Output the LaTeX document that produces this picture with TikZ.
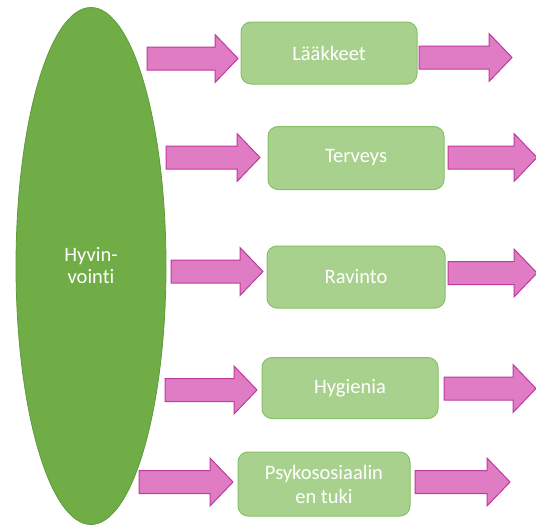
\documentclass[tikz,border=0pt]{standalone}
\usepackage{fontspec}
\setmainfont{Carlito}[Ligatures=NoCommon]
\definecolor{ellfill}{HTML}{70AD47}
\definecolor{ellline}{HTML}{5E9B3B}
\definecolor{boxfill}{HTML}{A9D18E}
\definecolor{boxline}{HTML}{86C165}
\definecolor{arrfill}{HTML}{E07CC3}
\definecolor{arrline}{HTML}{BF3A9E}
\tikzset{
  ellnode/.style={ellipse, fill=ellfill, draw=ellline, line width=0.8pt, inner sep=0pt},
  boxnode/.style={rounded corners=10pt, fill=boxfill, draw=boxline, line width=1pt,
    text=white, align=center, font=\fontsize{20.5}{23}\selectfont, inner sep=0pt},
  blockarr/.style={fill=arrfill, draw=arrline, line width=1pt, line join=miter},
}
\usetikzlibrary{shapes.geometric}
% \barrow{x1}{x2}{yc}
\newcommand\barrow[3]{%
  \path[blockarr] (#1,#3-11.5) -- (#2-23,#3-11.5) -- (#2-23,#3-24) -- (#2,#3)
    -- (#2-23,#3+24) -- (#2-23,#3+11.5) -- (#1,#3+11.5) -- cycle;}
\begin{document}
\begin{tikzpicture}[x=1pt,y=-1pt]
\useasboundingbox (0,0) rectangle (536,530);
\node[ellnode, minimum width=150pt, minimum height=517pt, text=white, align=center,
  font=\fontsize{20.5}{22}\selectfont] (hv) at (91,266) {Hyvin-\\vointi};

\node[boxnode, minimum width=176pt, minimum height=62pt] (b1) at (329,53) {Lääkkeet};
\node[boxnode, minimum width=176pt, minimum height=63pt] (b2) at (356,158) {Terveys};
\node[boxnode, minimum width=178pt, minimum height=62pt] (b3) at (356,277) {Ravinto};
\node[boxnode, minimum width=176pt, minimum height=61pt] (b4) at (350,388) {Hygienia};
\node[boxnode, minimum width=172pt, minimum height=64pt, font=\fontsize{20.5}{24}\selectfont] (b5) at (324,484) {Psykososiaalin\\en tuki};

\barrow{147}{238}{58.5}
\barrow{419}{512}{57.5}
\barrow{166}{260}{157.5}
\barrow{448}{537}{157.5}
\barrow{171}{263}{271.5}
\barrow{448}{537}{273}
\barrow{165}{257}{390}
\barrow{444}{536}{388.5}
\barrow{139}{233}{482}
\barrow{415}{510}{482}
\end{tikzpicture}
\end{document}
